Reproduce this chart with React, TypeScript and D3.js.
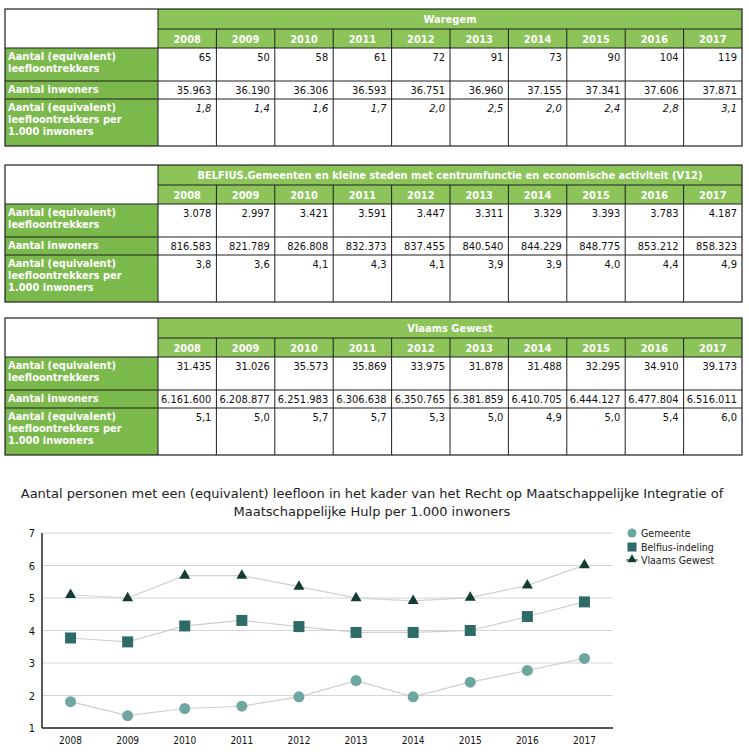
import React from "react";
import * as d3 from "d3";

const years = ["2008", "2009", "2010", "2011", "2012", "2013", "2014", "2015", "2016", "2017"];

const rowLabels = [
  ["Aantal (equivalent)", "leefloontrekkers"],
  ["Aantal inwoners"],
  ["Aantal (equivalent)", "leefloontrekkers per", "1.000 inwoners"],
];

const waregemTitle = "Waregem";
const waregemLeef = ["65", "50", "58", "61", "72", "91", "73", "90", "104", "119"];
const waregemInw = ["35.963", "36.190", "36.306", "36.593", "36.751", "36.960", "37.155", "37.341", "37.606", "37.871"];
const waregemRatio = ["1,8", "1,4", "1,6", "1,7", "2,0", "2,5", "2,0", "2,4", "2,8", "3,1"];

const belfiusTitle = "BELFIUS.Gemeenten en kleine steden met centrumfunctie  en economische activiteit (V12)";
const belfiusLeef = ["3.078", "2.997", "3.421", "3.591", "3.447", "3.311", "3.329", "3.393", "3.783", "4.187"];
const belfiusInw = ["816.583", "821.789", "826.808", "832.373", "837.455", "840.540", "844.229", "848.775", "853.212", "858.323"];
const belfiusRatio = ["3,8", "3,6", "4,1", "4,3", "4,1", "3,9", "3,9", "4,0", "4,4", "4,9"];

const vlaamsTitle = "Vlaams Gewest";
const vlaamsLeef = ["31.435", "31.026", "35.573", "35.869", "33.975", "31.878", "31.488", "32.295", "34.910", "39.173"];
const vlaamsInw = ["6.161.600", "6.208.877", "6.251.983", "6.306.638", "6.350.765", "6.381.859", "6.410.705", "6.444.127", "6.477.804", "6.516.011"];
const vlaamsRatio = ["5,1", "5,0", "5,7", "5,7", "5,3", "5,0", "4,9", "5,0", "5,4", "6,0"];

const chartTitle = [
  "Aantal personen met een (equivalent) leefloon in het kader van het Recht op Maatschappelijke Integratie of",
  "Maatschappelijke Hulp per 1.000 inwoners",
];
const gemeenteSeries = [1.81, 1.38, 1.6, 1.67, 1.96, 2.46, 1.96, 2.41, 2.77, 3.14];
const belfiusSeries = [3.77, 3.65, 4.14, 4.31, 4.12, 3.94, 3.94, 4.0, 4.43, 4.88];
const vlaamsSeries = [5.1, 5.0, 5.69, 5.69, 5.35, 5.0, 4.91, 5.01, 5.39, 6.01];
const yTicks = [1, 2, 3, 4, 5, 6, 7];
const legendLabels = ["Gemeente", "Belfius-indeling", "Vlaams Gewest"];

const HEAD = "#8cc45a";
const LABEL = "#7cb94c";
const BORDER = "#1e1e1e";
const FONT = "'DejaVu Sans Condensed', 'DejaVu Sans', sans-serif";

const rowHeights = [20, 19, 33, 18, 47];

function DataTable({ top, title, rows, italicLast }: { top: number; title: string; rows: string[][]; italicLast?: boolean }) {
  const left = 5;
  const labelRight = 158;
  const right = 742;
  const x = d3.scaleBand<string>().domain(years).range([labelRight, right]);
  const ys: number[] = [top];
  rowHeights.forEach((h) => ys.push(ys[ys.length - 1] + h));
  const bottom = ys[ys.length - 1];
  const cells: React.ReactNode[] = [];
  cells.push(<rect key="hb" x={labelRight} y={ys[0]} width={right - labelRight} height={ys[2] - ys[0]} fill={HEAD} />);
  cells.push(<rect key="lb" x={left} y={ys[2]} width={labelRight - left} height={bottom - ys[2]} fill={LABEL} />);
  cells.push(
    <text key="title" x={(labelRight + right) / 2} y={ys[0] + 14} textAnchor="middle" fill="#fff" fontWeight="bold" fontSize={11} fontFamily={FONT}>
      {title}
    </text>
  );
  years.forEach((yr) => {
    cells.push(
      <text key={"y" + yr} x={(x(yr) as number) + x.bandwidth() / 2} y={ys[1] + 14} textAnchor="middle" fill="#fff" fontWeight="bold" fontSize={11} fontFamily={FONT}>
        {yr}
      </text>
    );
  });
  rowLabels.forEach((lines, r) => {
    lines.forEach((ln, i) => {
      cells.push(
        <text key={"l" + r + i} x={left + 3} y={ys[r + 2] + 12 + i * 12} fill="#fff" fontWeight="bold" fontSize={11} fontFamily={FONT}>
          {ln}
        </text>
      );
    });
    rows[r].forEach((v, c) => {
      cells.push(
        <text
          key={"v" + r + c}
          x={(x(years[c]) as number) + x.bandwidth() - 5}
          y={ys[r + 2] + 13}
          textAnchor="end"
          fill="#111"
          fontSize={11}
          fontStyle={italicLast && r === 2 ? "italic" : "normal"}
          fontFamily={FONT}
        >
          {v}
        </text>
      );
    });
  });
  const lines: React.ReactNode[] = [];
  lines.push(<rect key="outer" x={left} y={top} width={right - left} height={bottom - top} fill="none" stroke={BORDER} strokeWidth={1.2} />);
  [ys[2], ys[3], ys[4]].forEach((yy, i) => lines.push(<line key={"h" + i} x1={left} x2={right} y1={yy} y2={yy} stroke={BORDER} strokeWidth={1} />));
  lines.push(<line key="h1" x1={labelRight} x2={right} y1={ys[1]} y2={ys[1]} stroke={BORDER} strokeWidth={1} />);
  lines.push(<line key="vl" x1={labelRight} x2={labelRight} y1={top} y2={bottom} stroke={BORDER} strokeWidth={1} />);
  years.slice(1).forEach((yr) => {
    const xx = x(yr) as number;
    lines.push(<line key={"v" + yr} x1={xx} x2={xx} y1={ys[1]} y2={bottom} stroke={BORDER} strokeWidth={1} />);
  });
  return (
    <g>
      {cells}
      {lines}
    </g>
  );
}

function LineChart() {
  const x = d3.scalePoint<string>().domain(years).range([42, 613]).padding(0.5);
  const y = d3.scaleLinear().domain([1, 7]).range([728, 533]);
  const line = d3
    .line<number>()
    .x((_, i) => x(years[i]) as number)
    .y((d) => y(d));
  const tri = d3.symbol().type(d3.symbolTriangle).size(52)() as string;
  const triSmall = d3.symbol().type(d3.symbolTriangle).size(36)() as string;
  return (
    <g>
      {chartTitle.map((t, i) => (
        <text key={"t" + i} x={372} y={498 + i * 18} textAnchor="middle" fontSize={13} fill="#222" fontFamily="'DejaVu Sans', sans-serif">
          {t}
        </text>
      ))}
      {yTicks.slice(1).map((t) => (
        <line key={"g" + t} x1={42} x2={613} y1={y(t)} y2={y(t)} stroke="#d4d4d4" strokeWidth={1} />
      ))}
      {yTicks.map((t) => (
        <text key={"yt" + t} x={35} y={y(t) + 4} textAnchor="end" fontSize={11} fill="#111" fontFamily={FONT}>
          {t}
        </text>
      ))}
      {years.map((yr) => (
        <text key={"xt" + yr} x={x(yr) as number} y={744} textAnchor="middle" fontSize={10} fill="#111" fontFamily={FONT}>
          {yr}
        </text>
      ))}
      <path d={line(vlaamsSeries) as string} fill="none" stroke="#cfcfcf" strokeWidth={1.2} />
      <path d={line(belfiusSeries) as string} fill="none" stroke="#cfcfcf" strokeWidth={1.2} />
      <path d={line(gemeenteSeries) as string} fill="none" stroke="#cfcfcf" strokeWidth={1.2} />
      {gemeenteSeries.map((v, i) => (
        <circle key={"c" + i} cx={x(years[i]) as number} cy={y(v)} r={5.5} fill="#6ea7a2" />
      ))}
      {belfiusSeries.map((v, i) => (
        <rect key={"s" + i} x={(x(years[i]) as number) - 5.5} y={y(v) - 5.5} width={11} height={11} fill="#2e6b68" />
      ))}
      {vlaamsSeries.map((v, i) => (
        <path key={"tr" + i} d={tri} transform={`translate(${x(years[i])},${y(v)})`} fill="#143c34" />
      ))}
      <line x1={42} x2={42} y1={533} y2={728} stroke="#222" strokeWidth={1.5} />
      <line x1={42} x2={613} y1={728} y2={728} stroke="#222" strokeWidth={1.5} />
      <circle cx={632} cy={533} r={4.5} fill="#6ea7a2" />
      <rect x={627.5} y={542.5} width={9} height={9} fill="#2e6b68" />
      <line x1={626} x2={638} y1={560} y2={560} stroke="#143c34" strokeWidth={1} />
      <path d={triSmall} transform="translate(632,559.5)" fill="#143c34" />
      {legendLabels.map((l, i) => (
        <text key={"lg" + i} x={641} y={537 + i * 13.5} fontSize={10.5} fill="#222" fontFamily={FONT}>
          {l}
        </text>
      ))}
    </g>
  );
}

export default function App() {
  return (
    <svg width={749} height={756} style={{ position: "absolute", left: 0, top: 0, background: "#fff" }}>
      <rect width={749} height={756} fill="#fff" />
      <DataTable top={9} title={waregemTitle} rows={[waregemLeef, waregemInw, waregemRatio]} italicLast />
      <DataTable top={165} title={belfiusTitle} rows={[belfiusLeef, belfiusInw, belfiusRatio]} />
      <DataTable top={318} title={vlaamsTitle} rows={[vlaamsLeef, vlaamsInw, vlaamsRatio]} />
      <LineChart />
    </svg>
  );
}
